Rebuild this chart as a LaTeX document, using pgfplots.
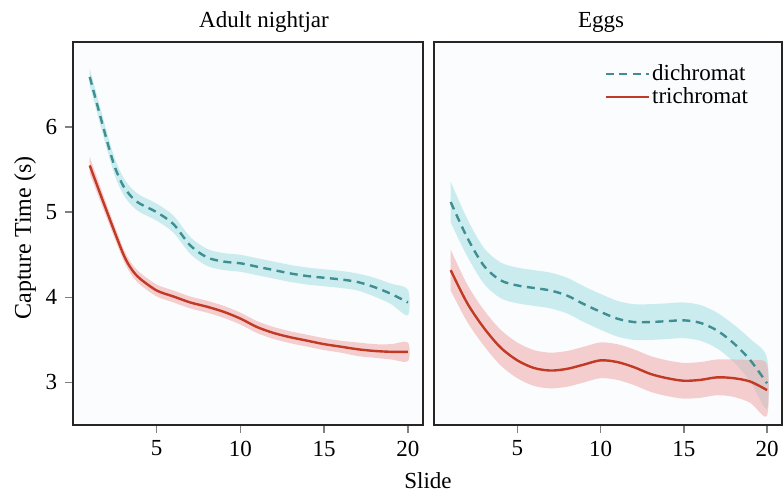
\documentclass[border=0pt]{standalone}
\usepackage{fontspec}
\setmainfont{Liberation Serif}
\usepackage{pgfplots}
\pgfplotsset{compat=1.18}

\definecolor{dline}{HTML}{3E8E92}
\definecolor{dband}{HTML}{9BDDE3}
\definecolor{tline}{HTML}{C03A26}
\definecolor{tband}{HTML}{EFA1A1}
\definecolor{bgc}{HTML}{FBFCFD}

\pgfplotsset{
  panel/.style={
    scale only axis, height=383pt,
    xmin=0, xmax=20.9, ymin=2.5, ymax=7,
    xtick={5,10,15,20}, ytick={3,4,5,6},
    xtick pos=left, ytick pos=left,
    tick align=outside, major tick length=8pt,
    tick style={gray, line width=1.5pt},
    axis line style={black!85, line width=2.6pt},
    axis background/.style={fill=bgc},
    /pgf/number format/assume math mode=true,
  },
  dband/.style={fill=dband, fill opacity=0.5, draw=none, smooth, forget plot},
  tband/.style={fill=tband, fill opacity=0.5, draw=none, smooth, forget plot},
  dmean/.style={dline, line width=2.4pt, dash pattern=on 8pt off 5.5pt, smooth},
  tmean/.style={tline, line width=2.4pt, smooth},
}

\begin{document}
\fontsize{23}{27}\selectfont
\begin{tikzpicture}
\path[use as bounding box] (0,0) rectangle (783pt,-493pt);

% ---- Adult nightjar ----
\begin{axis}[panel, width=350pt, at={(73pt,-425pt)}, anchor=south west]
\addplot[dband] coordinates {
  (1,6.69)(2,5.96)(2.5,5.63)(3,5.41)(3.5,5.28)(4,5.20)(5,5.10)(6,4.96)(7,4.71)(8,4.57)
  (9,4.52)(10,4.50)(11,4.46)(12,4.42)(13,4.38)(14,4.35)(15,4.33)(16,4.31)(17,4.28)(18,4.23)
  (19,4.16)(20,4.09)
  (20,3.79)(19,3.92)(18,4.01)(17,4.08)(16,4.11)(15,4.13)(14,4.15)(13,4.18)(12,4.22)(11,4.26)
  (10,4.30)(9,4.32)(8,4.37)(7,4.51)(6,4.76)(5,4.90)(4,5.00)(3.5,5.08)(3,5.21)(2.5,5.43)
  (2,5.76)(1,6.49)};
\addplot[tband] coordinates {
  (1,5.65)(2,5.10)(3,4.58)(3.5,4.40)(4,4.29)(5,4.15)(6,4.08)(7,4.01)(8,3.96)(9,3.90)
  (10,3.82)(11,3.72)(12,3.65)(13,3.60)(14,3.56)(15,3.52)(16,3.49)(17,3.47)(18,3.45)(19,3.45)
  (20,3.47)
  (20,3.25)(19,3.27)(18,3.29)(17,3.31)(16,3.35)(15,3.38)(14,3.42)(13,3.46)(12,3.51)(11,3.58)
  (10,3.68)(9,3.76)(8,3.82)(7,3.87)(6,3.94)(5,4.01)(4,4.15)(3.5,4.26)(3,4.44)(2,4.94)
  (1,5.45)};
\addplot[dmean] coordinates {
  (1,6.59)(2,5.86)(2.5,5.53)(3,5.31)(3.5,5.18)(4,5.10)(5,5.00)(6,4.86)(7,4.61)(8,4.47)
  (9,4.42)(10,4.40)(11,4.36)(12,4.32)(13,4.28)(14,4.25)(15,4.23)(16,4.21)(17,4.18)(18,4.12)
  (19,4.04)(20,3.94)};
\addplot[tmean] coordinates {
  (1,5.55)(2,5.02)(3,4.51)(3.5,4.33)(4,4.22)(5,4.08)(6,4.01)(7,3.94)(8,3.89)(9,3.83)
  (10,3.75)(11,3.65)(12,3.58)(13,3.53)(14,3.49)(15,3.45)(16,3.42)(17,3.39)(18,3.37)(19,3.36)
  (20,3.36)};
\end{axis}

% ---- Eggs ----
\begin{axis}[panel, width=348pt, at={(434pt,-425pt)}, anchor=south west,
  ytick=\empty,
  legend style={at={(axis description cs:0.49,0.948)}, anchor=north west,
    draw=none, fill=none, inner sep=0pt, row sep=0pt,
    font=\fontsize{23}{25}\selectfont},
  legend cell align=left,
  legend image code/.code={\draw[#1] (0pt,0pt) -- (43pt,0pt);}]
\addplot[dband] coordinates {
  (1,5.36)(2,4.92)(3,4.58)(4,4.41)(5,4.35)(6,4.32)(7,4.29)(8,4.23)(9,4.13)(10,4.04)
  (11,3.96)(12,3.92)(13,3.92)(14,3.93)(15,3.94)(16,3.91)(17,3.82)(18,3.68)(19,3.51)(20,3.29)
  (20,2.69)(19,3.01)(18,3.24)(17,3.40)(16,3.49)(15,3.52)(14,3.51)(13,3.50)(12,3.50)(11,3.54)
  (10,3.62)(9,3.71)(8,3.81)(7,3.87)(6,3.90)(5,3.93)(4,3.99)(3,4.16)(2,4.48)(1,4.88)};
\addplot[tband] coordinates {
  (1,4.56)(2,4.15)(3,3.85)(4,3.62)(5,3.47)(6,3.38)(7,3.35)(8,3.37)(9,3.42)(10,3.47)
  (11,3.45)(12,3.39)(13,3.31)(14,3.26)(15,3.23)(16,3.24)(17,3.27)(18,3.27)(19,3.26)(20,3.21)
  (20,2.61)(19,2.76)(18,2.83)(17,2.85)(16,2.82)(15,2.81)(14,2.84)(13,2.89)(12,2.97)(11,3.03)
  (10,3.05)(9,3.00)(8,2.95)(7,2.93)(6,2.96)(5,3.05)(4,3.20)(3,3.43)(2,3.71)(1,4.08)};
\addplot[dmean] coordinates {
  (1,5.12)(2,4.70)(3,4.37)(4,4.20)(5,4.14)(6,4.11)(7,4.08)(8,4.02)(9,3.92)(10,3.83)
  (11,3.75)(12,3.71)(13,3.71)(14,3.72)(15,3.73)(16,3.70)(17,3.61)(18,3.46)(19,3.26)(20,2.99)};
\addplot[tmean] coordinates {
  (1,4.32)(2,3.93)(3,3.64)(4,3.41)(5,3.26)(6,3.17)(7,3.14)(8,3.16)(9,3.21)(10,3.26)
  (11,3.24)(12,3.18)(13,3.10)(14,3.05)(15,3.02)(16,3.03)(17,3.06)(18,3.05)(19,3.01)(20,2.91)};
\legend{dichromat, trichromat}
\end{axis}

\node[anchor=base] at (264pt,-27pt) {Adult nightjar};
\node[anchor=base] at (601pt,-27pt) {Eggs};
\node[rotate=90, font=\fontsize{24}{28}\selectfont] at (25pt,-238pt) {Capture Time (s)};
\node at (428pt,-481pt) {Slide};
\end{tikzpicture}
\end{document}
